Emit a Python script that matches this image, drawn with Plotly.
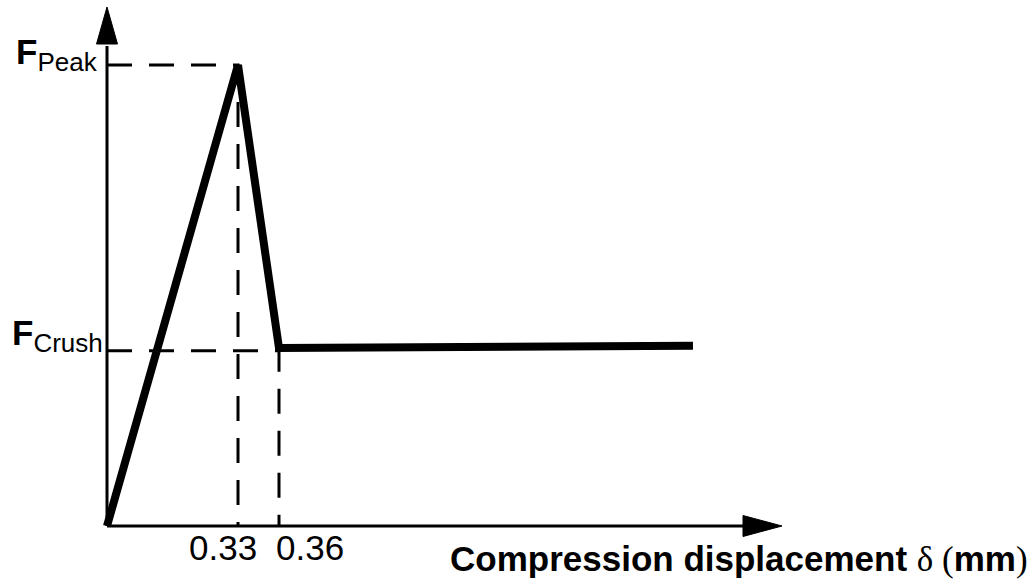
import plotly.graph_objects as go

# ---- data (schematic units: x normalised so that peak displacement = 1, force normalised so F_peak = 1)
curve_x = [0.0, 1.0, 1.313, 4.473]
curve_y = [0.0, 1.0, 0.386, 0.391]
f_peak = 1.0
f_crush = 0.38
x_peak = 1.0
x_crush = 1.313
tick_labels = ["0.33", "0.36"]
level_labels = ["<b>F</b><sub><span style='font-size:26px'>Peak</span></sub>",
                "<b>F</b><sub><span style='font-size:26px'>Crush</span></sub>"]
axis_title = ("<b>Compression displacement </b>"
              "<span style='font-family:Liberation Serif'>δ (</span><b>mm</b>"
              "<span style='font-family:Liberation Serif'>)</span>")

# ---- layout geometry
W, H = 1032, 587
ORIGIN_PX = (107, 526)
KX, KY = 131.0, 461.0
xr = [-ORIGIN_PX[0] / KX, (W - ORIGIN_PX[0]) / KX]
yr = [-(H - ORIGIN_PX[1]) / KY, ORIGIN_PX[1] / KY]

def dx(px):
    return px / KX

def dy(px):
    return px / KY

FONT = "Liberation Sans, Arial, sans-serif"

fig = go.Figure()

# dashed guide lines
fig.add_trace(go.Scatter(x=[0, x_peak, x_peak], y=[f_peak, f_peak, 0], mode="lines",
                         line=dict(color="black", width=3, dash="25px,17px"), hoverinfo="skip"))
fig.add_trace(go.Scatter(x=[0, x_crush, x_crush], y=[f_crush, f_crush, 0], mode="lines",
                         line=dict(color="black", width=3, dash="25px,17px"), hoverinfo="skip"))
# main curve
fig.add_trace(go.Scatter(x=curve_x, y=curve_y, mode="lines",
                         line=dict(color="black", width=8), hoverinfo="skip"))

# axes with arrowheads
x_tip = dx(782 - ORIGIN_PX[0])
x_base = dx(743 - ORIGIN_PX[0])
y_tip = dy(ORIGIN_PX[1] - 7)
y_base = dy(ORIGIN_PX[1] - 44)
hw_x = dy(10.5)
hw_y = dx(10.5)
shapes = [
    dict(type="line", x0=0, y0=0, x1=x_base + dx(2), y1=0, line=dict(color="black", width=3)),
    dict(type="line", x0=0, y0=0, x1=0, y1=y_base - dy(2), line=dict(color="black", width=3)),
    dict(type="path", path=f"M {x_base} {-hw_x} L {x_tip} 0 L {x_base} {hw_x} Z",
         fillcolor="black", line=dict(color="black", width=1)),
    dict(type="path", path=f"M {-hw_y} {y_base} L 0 {y_tip} L {hw_y} {y_base} Z",
         fillcolor="black", line=dict(color="black", width=1)),
]

annotations = [
    dict(x=0, y=f_peak, xref="x", yref="y", text=level_labels[0], showarrow=False,
         xanchor="right", yanchor="middle", xshift=-7, yshift=11,
         font=dict(family=FONT, size=35, color="black")),
    dict(x=0, y=f_crush, xref="x", yref="y", text=level_labels[1], showarrow=False,
         xanchor="right", yanchor="middle", xshift=-2, yshift=15,
         font=dict(family=FONT, size=35, color="black")),
    dict(x=x_peak, y=0, xref="x", yref="y", text=tick_labels[0], showarrow=False,
         xanchor="right", yanchor="top", xshift=21, yshift=0,
         font=dict(family=FONT, size=35, color="black")),
    dict(x=x_crush, y=0, xref="x", yref="y", text=tick_labels[1], showarrow=False,
         xanchor="left", yanchor="top", xshift=-5, yshift=0,
         font=dict(family=FONT, size=35, color="black")),
    dict(x=1, y=0, xref="paper", yref="paper", text=axis_title, showarrow=False,
         xanchor="right", yanchor="bottom", xshift=-2, yshift=6,
         font=dict(family=FONT, size=35, color="black")),
]

fig.update_layout(
    width=W, height=H, margin=dict(l=0, r=0, t=0, b=0),
    paper_bgcolor="white", plot_bgcolor="white", showlegend=False,
    xaxis=dict(range=xr, visible=False, fixedrange=True),
    yaxis=dict(range=yr, visible=False, fixedrange=True),
    shapes=shapes, annotations=annotations,
)

fig.write_html("out.html", config={"displayModeBar": False},
               post_script="document.body.style.margin='0';")
